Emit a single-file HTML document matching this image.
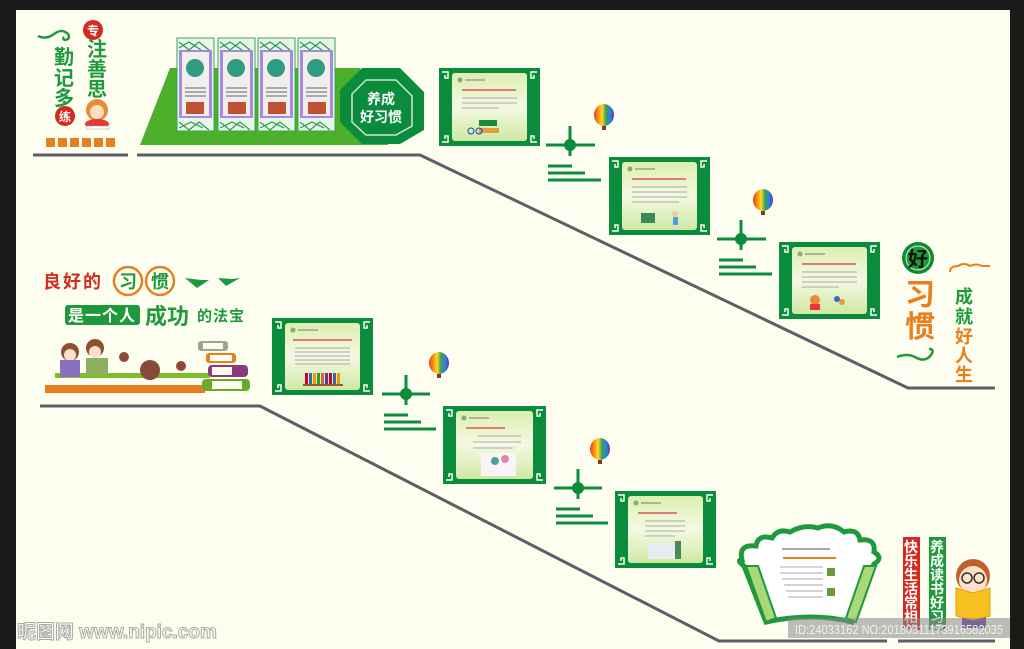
<!DOCTYPE html>
<html><head><meta charset="utf-8">
<style>
html,body{margin:0;padding:0;}
body{width:1024px;height:649px;overflow:hidden;background:#fdfdf0;position:relative;font-family:"Liberation Sans","Noto Sans CJK SC",sans-serif;}
svg{position:absolute;left:0;top:0;}
.t{font-family:"Liberation Sans","Noto Sans CJK SC",sans-serif;font-weight:bold;}
</style></head><body>
<svg width="1024" height="649" viewBox="0 0 1024 649" xmlns="http://www.w3.org/2000/svg">
<defs>
<linearGradient id="pg" x1="0" y1="0" x2="0" y2="1">
<stop offset="0" stop-color="#dcefb0"/><stop offset="0.5" stop-color="#f4f9e2"/><stop offset="1" stop-color="#cfe8a4"/>
</linearGradient>
<linearGradient id="bl" x1="0" y1="0" x2="1" y2="0">
<stop offset="0" stop-color="#e53935"/><stop offset="0.2" stop-color="#fb8c00"/><stop offset="0.4" stop-color="#fdd835"/><stop offset="0.6" stop-color="#43a047"/><stop offset="0.8" stop-color="#1e88e5"/><stop offset="1" stop-color="#8e24aa"/>
</linearGradient>
</defs>
<rect x="0" y="0" width="1024" height="10" fill="#1c1a18"/>
<rect x="0" y="0" width="16" height="649" fill="#1c1a18"/>
<rect x="1010" y="0" width="14" height="649" fill="#1c1a18"/>

<g stroke="#5b6068" stroke-width="3" fill="none">
<line x1="33" y1="155" x2="128" y2="155"/>
<polyline points="137,155 420,155 908,388 995,388"/>
<polyline points="40,406 260,406 719,641 887,641"/>
<line x1="898" y1="641" x2="995" y2="641"/>
</g>

<path d="M38 36 q8 4 16 -2 q8 -6 14 0 q3 5 -3 6 q-3 -1 -1 -3" stroke="#1e9a3c" stroke-width="2.5" fill="none"/>
<text class="t" x="64" y="64" font-size="20" fill="#1e9a3c" text-anchor="middle">勤</text>
<text class="t" x="64" y="85" font-size="20" fill="#1e9a3c" text-anchor="middle">记</text>
<text class="t" x="64" y="105" font-size="20" fill="#1e9a3c" text-anchor="middle">多</text>
<circle cx="65" cy="116" r="10" fill="#d52b1e"/>
<text class="t" x="65" y="121" font-size="12" fill="#fff" text-anchor="middle">练</text>
<circle cx="93" cy="30" r="10" fill="#d52b1e"/>
<text class="t" x="93" y="35" font-size="12" fill="#fff" text-anchor="middle">专</text>
<text class="t" x="97" y="56" font-size="20" fill="#1e9a3c" text-anchor="middle">注</text>
<text class="t" x="97" y="76" font-size="20" fill="#1e9a3c" text-anchor="middle">善</text>
<text class="t" x="97" y="96" font-size="20" fill="#1e9a3c" text-anchor="middle">思</text>
<circle cx="97" cy="110" r="11" fill="#e88a3a"/>
<circle cx="97" cy="112" r="7" fill="#fde0c0"/>
<ellipse cx="97" cy="124" rx="12" ry="5" fill="#e53935"/>
<rect x="87" y="126" width="22" height="3" fill="#fff" stroke="#aaa" stroke-width="0.5"/>
<g fill="#e8801f">
<rect x="46" y="138" width="9" height="9"/><rect x="58" y="138" width="9" height="9"/><rect x="70" y="138" width="9" height="9"/>
<rect x="82" y="138" width="9" height="9"/><rect x="94" y="138" width="9" height="9"/><rect x="106" y="138" width="9" height="9"/>
</g>

<polygon points="140,145 170,68 360,68 388,145" fill="#4caf2c"/>
<g>
<rect x="177" y="38" width="37" height="93" fill="#e8f5e8" stroke="#3aa457" stroke-width="1"/>
<rect x="218" y="38" width="37" height="93" fill="#e8f5e8" stroke="#3aa457" stroke-width="1"/>
<rect x="258" y="38" width="37" height="93" fill="#e8f5e8" stroke="#3aa457" stroke-width="1"/>
<rect x="298" y="38" width="37" height="93" fill="#e8f5e8" stroke="#3aa457" stroke-width="1"/>
<g fill="#a78ae0">
<rect x="179" y="50" width="33" height="68"/><rect x="220" y="50" width="33" height="68"/><rect x="260" y="50" width="33" height="68"/><rect x="300" y="50" width="33" height="68"/>
</g>
<g fill="#f0efee">
<rect x="182" y="52" width="27" height="64"/><rect x="223" y="52" width="27" height="64"/><rect x="263" y="52" width="27" height="64"/><rect x="303" y="52" width="27" height="64"/>
</g>
<g fill="#2f9b80">
<circle cx="195" cy="68" r="9"/><circle cx="236" cy="68" r="9"/><circle cx="276" cy="68" r="9"/><circle cx="316" cy="68" r="9"/>
</g>
<g stroke="#666" stroke-width="1">
<line x1="185" y1="88" x2="206" y2="88"/><line x1="185" y1="92" x2="206" y2="92"/><line x1="185" y1="96" x2="206" y2="96"/>
<line x1="226" y1="88" x2="247" y2="88"/><line x1="226" y1="92" x2="247" y2="92"/><line x1="226" y1="96" x2="247" y2="96"/>
<line x1="266" y1="88" x2="287" y2="88"/><line x1="266" y1="92" x2="287" y2="92"/><line x1="266" y1="96" x2="287" y2="96"/>
<line x1="306" y1="88" x2="327" y2="88"/><line x1="306" y1="92" x2="327" y2="92"/><line x1="306" y1="96" x2="327" y2="96"/>
</g>
<g fill="#c05030"><rect x="186" y="102" width="18" height="12"/><rect x="228" y="102" width="18" height="12"/><rect x="268" y="102" width="18" height="12"/><rect x="308" y="102" width="18" height="12"/></g>
<g stroke="#2a9a4a" stroke-width="1.2" fill="none">
<path d="M179 42 l10 8 l10 -8 l10 8 M179 48 l10 -6 l12 8 M179 122 l10 8 l10 -8 l10 8 M179 128 l12 -6 l12 6"/>
<path d="M220 42 l10 8 l10 -8 l10 8 M220 48 l10 -6 l12 8 M220 122 l10 8 l10 -8 l10 8 M220 128 l12 -6 l12 6"/>
<path d="M260 42 l10 8 l10 -8 l10 8 M260 48 l10 -6 l12 8 M260 122 l10 8 l10 -8 l10 8 M260 128 l12 -6 l12 6"/>
<path d="M300 42 l10 8 l10 -8 l10 8 M300 48 l10 -6 l12 8 M300 122 l10 8 l10 -8 l10 8 M300 128 l12 -6 l12 6"/>
</g>
</g>
<polygon points="362,68 400,68 424,92 424,130 400,144 362,144 340,122 340,90" fill="#0b8b3c"/>
<polygon points="366,80 396,80 412,96 412,126 396,135 366,135 352,122 352,94" fill="none" stroke="#cfe8d0" stroke-width="1.5"/>
<text class="t" x="381" y="104" font-size="14" fill="#fff" text-anchor="middle">养成</text>
<text class="t" x="381" y="122" font-size="14" fill="#fff" text-anchor="middle">好习惯</text>

<g>
<g transform="translate(439,68)">
<rect width="101" height="78" fill="#0b8b3c"/><rect x="13" y="5" width="75" height="68" rx="3" fill="url(#pg)"/>
<g stroke="#fdfdf0" stroke-width="1.5" fill="none"><path d="M3 4h6v6h-3v-3M98 4h-6v6h3v-3M3 74h6v-6h-3v3M98 74h-6v-6h3v3"/></g>
<circle cx="21" cy="12" r="2.5" fill="#8a7"/><line x1="26" y1="12" x2="46" y2="12" stroke="#777"/>
<line x1="23" y1="22" x2="77" y2="22" stroke="#e05555" stroke-width="1.5"/>
<g stroke="#aaa"><line x1="23" y1="30" x2="78" y2="30"/><line x1="23" y1="35" x2="78" y2="35"/><line x1="23" y1="40" x2="60" y2="40"/></g>
<rect x="40" y="52" width="18" height="6" fill="#1b8a3a"/><rect x="40" y="60" width="20" height="5" fill="#e59a3b"/>
<circle cx="32" cy="63" r="3" fill="none" stroke="#1340c0"/><circle cx="40" cy="63" r="3" fill="none" stroke="#1340c0"/>
</g>
<g transform="translate(609,157)">
<rect width="101" height="78" fill="#0b8b3c"/><rect x="13" y="5" width="75" height="68" rx="3" fill="url(#pg)"/>
<g stroke="#fdfdf0" stroke-width="1.5" fill="none"><path d="M3 4h6v6h-3v-3M98 4h-6v6h3v-3M3 74h6v-6h-3v3M98 74h-6v-6h3v3"/></g>
<circle cx="21" cy="12" r="2.5" fill="#8a7"/><line x1="26" y1="12" x2="46" y2="12" stroke="#777"/>
<line x1="23" y1="22" x2="77" y2="22" stroke="#e05555" stroke-width="1.5"/>
<g stroke="#aaa"><line x1="23" y1="30" x2="78" y2="30"/><line x1="23" y1="35" x2="78" y2="35"/><line x1="23" y1="40" x2="78" y2="40"/><line x1="23" y1="45" x2="70" y2="45"/></g>
<rect x="32" y="56" width="14" height="10" fill="#3a8a5a"/><circle cx="66" cy="57" r="3" fill="#f5c9a0"/><rect x="64" y="60" width="5" height="8" fill="#4aa0e0"/>
</g>
<g transform="translate(779,242)">
<rect width="101" height="77" fill="#0b8b3c"/><rect x="13" y="5" width="75" height="67" rx="3" fill="url(#pg)"/>
<g stroke="#fdfdf0" stroke-width="1.5" fill="none"><path d="M3 4h6v6h-3v-3M98 4h-6v6h3v-3M3 73h6v-6h-3v3M98 73h-6v-6h3v3"/></g>
<circle cx="21" cy="12" r="2.5" fill="#8a7"/><line x1="26" y1="12" x2="46" y2="12" stroke="#777"/>
<line x1="23" y1="22" x2="77" y2="22" stroke="#e05555" stroke-width="1.5"/>
<g stroke="#aaa"><line x1="23" y1="30" x2="78" y2="30"/><line x1="23" y1="35" x2="78" y2="35"/><line x1="23" y1="40" x2="78" y2="40"/><line x1="23" y1="45" x2="60" y2="45"/></g>
<circle cx="36" cy="58" r="5" fill="#e88a3a"/><rect x="31" y="62" width="10" height="6" fill="#e53935"/>
<circle cx="58" cy="57" r="3" fill="#3a6ad0"/><circle cx="63" cy="60" r="3" fill="#e5a030"/>
</g>
<g transform="translate(272,318)">
<rect width="101" height="77" fill="#0b8b3c"/><rect x="13" y="5" width="75" height="67" rx="3" fill="url(#pg)"/>
<g stroke="#fdfdf0" stroke-width="1.5" fill="none"><path d="M3 4h6v6h-3v-3M98 4h-6v6h3v-3M3 73h6v-6h-3v3M98 73h-6v-6h3v3"/></g>
<circle cx="21" cy="12" r="2.5" fill="#8a7"/><line x1="26" y1="12" x2="46" y2="12" stroke="#777"/>
<line x1="21" y1="22" x2="80" y2="22" stroke="#e05555" stroke-width="1.5"/>
<g stroke="#aaa"><line x1="23" y1="30" x2="78" y2="30"/><line x1="23" y1="34" x2="78" y2="34"/><line x1="23" y1="38" x2="78" y2="38"/><line x1="23" y1="42" x2="78" y2="42"/><line x1="23" y1="46" x2="78" y2="46"/></g>
<g><rect x="33" y="55" width="3" height="11" fill="#c03"/><rect x="37" y="55" width="3" height="11" fill="#36a"/><rect x="41" y="55" width="3" height="11" fill="#e90"/><rect x="45" y="55" width="3" height="11" fill="#393"/><rect x="49" y="55" width="3" height="11" fill="#c63"/><rect x="53" y="55" width="3" height="11" fill="#639"/><rect x="57" y="55" width="3" height="11" fill="#c03"/><rect x="61" y="55" width="3" height="11" fill="#36a"/><rect x="65" y="55" width="3" height="11" fill="#e90"/><rect x="31" y="66" width="40" height="2" fill="#8a6040"/></g>
</g>
<g transform="translate(443,406)">
<rect width="103" height="78" fill="#0b8b3c"/><rect x="13" y="5" width="77" height="68" rx="3" fill="url(#pg)"/>
<g stroke="#fdfdf0" stroke-width="1.5" fill="none"><path d="M3 4h6v6h-3v-3M100 4h-6v6h3v-3M3 74h6v-6h-3v3M100 74h-6v-6h3v3"/></g>
<circle cx="21" cy="12" r="2.5" fill="#8a7"/><line x1="26" y1="12" x2="46" y2="12" stroke="#777"/>
<line x1="23" y1="22" x2="62" y2="22" stroke="#e05555" stroke-width="1.5"/>
<g stroke="#aaa"><line x1="35" y1="30" x2="78" y2="30"/><line x1="30" y1="36" x2="78" y2="36"/><line x1="30" y1="42" x2="70" y2="42"/></g>
<rect x="38" y="47" width="35" height="23" fill="#fbf4f6"/><circle cx="52" cy="55" r="4" fill="#4aa0a0"/><circle cx="62" cy="53" r="4" fill="#e088a8"/>
</g>
<g transform="translate(615,491)">
<rect width="101" height="77" fill="#0b8b3c"/><rect x="13" y="5" width="75" height="67" rx="3" fill="url(#pg)"/>
<g stroke="#fdfdf0" stroke-width="1.5" fill="none"><path d="M3 4h6v6h-3v-3M98 4h-6v6h3v-3M3 73h6v-6h-3v3M98 73h-6v-6h3v3"/></g>
<circle cx="21" cy="12" r="2.5" fill="#8a7"/><line x1="26" y1="12" x2="46" y2="12" stroke="#777"/>
<line x1="23" y1="22" x2="62" y2="22" stroke="#e05555" stroke-width="1.5"/>
<g stroke="#aaa"><line x1="30" y1="30" x2="70" y2="30"/><line x1="30" y1="35" x2="70" y2="35"/><line x1="30" y1="40" x2="70" y2="40"/><line x1="30" y1="45" x2="60" y2="45"/></g>
<rect x="33" y="52" width="32" height="16" fill="#e8eef0"/><rect x="60" y="50" width="6" height="18" fill="#4a8a5a"/>
</g>
</g>

<g stroke="#0b8b3c" stroke-width="3" fill="#0b8b3c">
<line x1="546" y1="145" x2="595" y2="145"/><line x1="570" y1="126" x2="570" y2="156"/><circle cx="570" cy="145" r="6" stroke="none"/>
<line x1="548" y1="166" x2="572" y2="166"/><line x1="548" y1="173" x2="585" y2="173"/><line x1="548" y1="180" x2="601" y2="180"/>
<line x1="717" y1="239" x2="766" y2="239"/><line x1="741" y1="220" x2="741" y2="250"/><circle cx="741" cy="239" r="6" stroke="none"/>
<line x1="719" y1="260" x2="743" y2="260"/><line x1="719" y1="267" x2="756" y2="267"/><line x1="719" y1="274" x2="772" y2="274"/>
<line x1="382" y1="394" x2="430" y2="394"/><line x1="406" y1="375" x2="406" y2="405"/><circle cx="406" cy="394" r="6" stroke="none"/>
<line x1="384" y1="415" x2="408" y2="415"/><line x1="384" y1="422" x2="421" y2="422"/><line x1="384" y1="429" x2="436" y2="429"/>
<line x1="554" y1="488" x2="602" y2="488"/><line x1="578" y1="469" x2="578" y2="499"/><circle cx="578" cy="488" r="6" stroke="none"/>
<line x1="556" y1="509" x2="580" y2="509"/><line x1="556" y1="516" x2="593" y2="516"/><line x1="556" y1="523" x2="608" y2="523"/>
</g>
<g>
<ellipse cx="604" cy="115" rx="10" ry="11" fill="url(#bl)"/><rect x="602" y="126" width="4" height="4" fill="#8a3a1a"/>
<ellipse cx="763" cy="200" rx="10" ry="11" fill="url(#bl)"/><rect x="761" y="211" width="4" height="4" fill="#8a3a1a"/>
<ellipse cx="439" cy="363" rx="10" ry="11" fill="url(#bl)"/><rect x="437" y="374" width="4" height="4" fill="#8a3a1a"/>
<ellipse cx="600" cy="449" rx="10" ry="11" fill="url(#bl)"/><rect x="598" y="460" width="4" height="4" fill="#8a3a1a"/>
</g>

<text class="t" x="43" y="288" font-size="18" fill="#d52b1e" letter-spacing="2">良好的</text>
<circle cx="128" cy="281" r="14" fill="#fdfdf0" stroke="#e8801f" stroke-width="2.5"/>
<circle cx="160" cy="281" r="14" fill="#fdfdf0" stroke="#e8801f" stroke-width="2.5"/>
<text class="t" x="128" y="288" font-size="18" fill="#1e9a3c" text-anchor="middle">习</text>
<text class="t" x="160" y="288" font-size="18" fill="#1e9a3c" text-anchor="middle">惯</text>
<path d="M185 278 l12 10 l12 -8 l-8 0 z M218 278 l8 8 l14 -8 l-8 1 z" fill="#1e9a3c"/>
<rect x="65" y="305" width="75" height="20" rx="3" fill="#1e9a3c"/>
<text class="t" x="102" y="321" font-size="16" fill="#fff" text-anchor="middle" letter-spacing="1">是一个人</text>
<text class="t" x="145" y="324" font-size="22" fill="#1e9a3c">成功</text>
<text class="t" x="197" y="321" font-size="15" fill="#1e9a3c" letter-spacing="1">的法宝</text>
<rect x="55" y="373" width="155" height="5" fill="#7cbf2a"/>
<rect x="45" y="385" width="160" height="8" fill="#e8801f"/>
<circle cx="124" cy="357" r="5" fill="#8a4a3a"/><circle cx="150" cy="370" r="10" fill="#8a4a3a"/><circle cx="181" cy="366" r="5" fill="#8a4a3a"/>
<rect x="198" y="341" width="30" height="10" rx="3" fill="#9aa88a"/>
<rect x="206" y="353" width="30" height="10" rx="3" fill="#e8801f"/>
<rect x="208" y="365" width="40" height="12" rx="4" fill="#8a3a7a"/>
<rect x="202" y="379" width="48" height="12" rx="4" fill="#6aaa2a"/>
<g fill="#fdfdf0"><rect x="203" y="343" width="20" height="6"/><rect x="210" y="355" width="22" height="6"/><rect x="212" y="367" width="20" height="8"/><rect x="212" y="381" width="30" height="8"/></g>
<circle cx="70" cy="352" r="9" fill="#8a5030"/><circle cx="70" cy="355" r="6" fill="#fde0c8"/><rect x="60" y="360" width="20" height="17" fill="#8a70c0"/>
<circle cx="95" cy="348" r="9" fill="#8a5030"/><circle cx="95" cy="352" r="6" fill="#fde0c8"/><rect x="86" y="358" width="22" height="17" fill="#8ab060"/>

<circle cx="918" cy="258" r="16" fill="#0b8b3c"/><circle cx="918" cy="258" r="12" fill="#1e9a3c" stroke="#e6f0a0" stroke-width="1"/>
<text class="t" x="918" y="266" font-size="20" fill="#111" text-anchor="middle" font-weight="normal">好</text>
<text class="t" x="920" y="305" font-size="30" fill="#e8801f" text-anchor="middle">习</text>
<text class="t" x="920" y="337" font-size="30" fill="#e8801f" text-anchor="middle">惯</text>
<path d="M897 357 q10 -4 18 0 q10 6 16 -2 q4 -6 -2 -6" stroke="#1e9a3c" stroke-width="2.5" fill="none"/>
<path d="M950 272 q0 -6 8 -6 q6 -4 12 0 q6 -3 12 0 l8 0" stroke="#e8801f" stroke-width="2" fill="none"/>
<text class="t" x="964" y="303" font-size="18" fill="#1e9a3c" text-anchor="middle">成</text>
<text class="t" x="964" y="323" font-size="18" fill="#1e9a3c" text-anchor="middle">就</text>
<text class="t" x="964" y="343" font-size="18" fill="#e8801f" text-anchor="middle">好</text>
<text class="t" x="964" y="362" font-size="18" fill="#e8801f" text-anchor="middle">人</text>
<text class="t" x="964" y="381" font-size="18" fill="#e8801f" text-anchor="middle">生</text>

<path d="M742 560 q-4 -16 14 -14 q2 -12 16 -8 q6 -10 18 -6 q14 -8 28 -4 q14 -6 26 4 q14 -4 16 8 q16 -2 14 12 q10 6 0 12 l-22 58 q-40 -10 -86 0 l-22 -56 q-8 -6 -2 -6 z" fill="#fff" stroke="#1e9a3c" stroke-width="5"/>
<path d="M746 566 l20 56 l10 -4 l-18 -52 z" fill="#a8d878" stroke="#1e9a3c" stroke-width="2"/>
<path d="M876 566 l-20 56 l-10 -4 l18 -52 z" fill="#a8d878" stroke="#1e9a3c" stroke-width="2"/>
<line x1="782" y1="549" x2="830" y2="549" stroke="#555"/>
<line x1="783" y1="558" x2="836" y2="558" stroke="#e8801f" stroke-width="2"/>
<g stroke="#aaa"><line x1="780" y1="567" x2="823" y2="567"/><line x1="780" y1="573" x2="823" y2="573"/><line x1="782" y1="579" x2="823" y2="579"/><line x1="784" y1="585" x2="823" y2="585"/><line x1="786" y1="591" x2="823" y2="591"/><line x1="788" y1="597" x2="823" y2="597"/></g>
<rect x="827" y="568" width="8" height="8" fill="#6a9a3a"/><rect x="827" y="588" width="8" height="8" fill="#6a9a3a"/>
<rect x="903" y="537" width="17" height="93" fill="#d52b1e"/>
<rect x="929" y="537" width="17" height="93" fill="#1e9a3c"/>
<g class="t" font-size="14" fill="#fff" text-anchor="middle">
<text x="911" y="552">快</text><text x="911" y="566">乐</text><text x="911" y="580">生</text><text x="911" y="594">活</text><text x="911" y="608">常</text><text x="911" y="622">相</text><text x="911" y="636">伴</text>
<text x="937" y="552">养</text><text x="937" y="566">成</text><text x="937" y="580">读</text><text x="937" y="594">书</text><text x="937" y="608">好</text><text x="937" y="622">习</text><text x="937" y="636">惯</text>
</g>
<circle cx="973" cy="576" r="17" fill="#c0602a"/>
<circle cx="973" cy="580" r="14" fill="#fde0c8"/>
<circle cx="967" cy="578" r="5" fill="none" stroke="#333" stroke-width="1.5"/><circle cx="979" cy="578" r="5" fill="none" stroke="#333" stroke-width="1.5"/>
<rect x="962" y="614" width="24" height="14" fill="#6a3aa0"/>
<path d="M956 588 l17 5 l17 -5 l0 28 l-17 4 l-17 -4 z" fill="#f5c020" stroke="#e0a010"/>

<rect x="788" y="618" width="222" height="20" fill="#888" opacity="0.55"/>
<text x="795" y="634" font-size="13" fill="#f0f0f0" font-family="Liberation Sans, sans-serif" textLength="208" lengthAdjust="spacingAndGlyphs">ID:24033162 NO:20180311173916582035</text>
<text x="17" y="638" font-size="19" fill="#fdfdf0" stroke="#aaa" stroke-width="1" font-family="Liberation Sans, Noto Sans CJK SC, sans-serif" font-weight="bold">昵图网 www.nipic.com</text>
</svg>
</body></html>
